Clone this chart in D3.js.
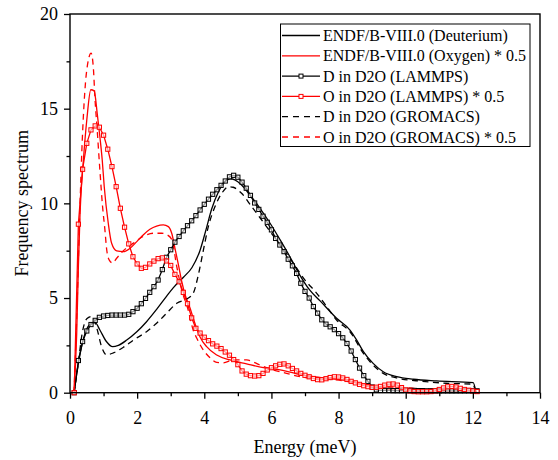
<!DOCTYPE html>
<html><head><meta charset="utf-8">
<script src="https://cdn.jsdelivr.net/npm/d3@7"></script>
<style>
html,body{margin:0;padding:0;background:#fff;}
svg{display:block;}
svg text{font-family:"Liberation Serif","Times New Roman",Times,"DejaVu Serif",serif !important;}
</style></head>
<body>
<svg id="chart" width="558" height="460"></svg>
<script>
// ---------- DATA ----------
const xTicks = [0, 2, 4, 6, 8, 10, 12, 14];
const xMinorTicks = [1, 3, 5, 7, 9, 11, 13];
const yTicks = [0, 5, 10, 15, 20];
const yMinorTicks = [2.5, 7.5, 12.5, 17.5];

const seriesNames = [
  "ENDF/B-VIII.0 (Deuterium)",
  "ENDF/B-VIII.0 (Oxygen) * 0.5",
  "D in D2O (LAMMPS)",
  "O in D2O (LAMMPS) * 0.5",
  "D in D2O (GROMACS)",
  "O in D2O (GROMACS) * 0.5"
];

// ENDF/B-VIII.0 Deuterium
const endfD_E = [0.12,0.25,0.45,0.65,0.75,0.89,1.09,1.27,1.44,1.69,1.99,2.28,2.58,2.88,3.08,3.38,3.63,3.87,4.05,4.22,4.42,4.62,4.77,4.91,5.11,5.36,5.66,5.96,6.26,6.55,6.85,7.15,7.45,7.94,8.34,8.54,8.74,9.03,9.33,9.73,10.23,10.92,12.01,12.09];
const endfD_V = [0,1.55,3.14,3.67,3.7,3.31,2.69,2.43,2.5,2.78,3.22,3.75,4.4,5.1,5.55,6.1,6.6,7.5,8.6,9.7,10.6,11.15,11.3,11.24,10.97,10.44,9.74,8.95,8.07,7.18,6.2,5.4,4.85,3.93,3.31,2.78,2.17,1.55,1.11,0.85,0.71,0.62,0.53,0.05];

// ENDF/B-VIII.0 Oxygen * 0.5
const endfO_E = [0.12,0.2,0.25,0.3,0.4,0.5,0.62,0.72,0.81,0.89,0.96,1.02,1.14,1.24,1.39,1.59,1.79,1.99,2.18,2.38,2.58,2.78,2.93,3.03,3.13,3.23,3.33,3.43,3.57,3.72,3.87,4.07,4.37,4.77,5.26,5.76,6.26,6.75,7.25,7.75,8.25,8.75,9.25,9.75,10.5,11.5,12.1];
const endfO_V = [0,3.14,6.66,9.5,12.3,14.4,16.0,15.94,14.76,13.52,12.29,10.88,8.95,7.89,7.49,7.45,7.63,7.98,8.33,8.63,8.8,8.86,8.77,8.42,7.6,6.75,5.86,5.16,4.5,3.67,2.96,2.43,1.99,1.73,1.52,1.32,1.2,1.0,0.85,0.75,0.65,0.45,0.25,0.12,0.06,0.04,0.03];

// GROMACS D
const gromD_E = [0.12,0.25,0.35,0.5,0.65,0.8,0.94,1.09,1.29,1.59,1.89,2.28,2.58,2.88,3.18,3.48,3.67,3.82,3.97,4.12,4.32,4.52,4.72,4.86,5.11,5.41,5.71,6.0,6.3,6.65,7.0,7.35,7.65,7.94,8.34,8.74,9.03,9.33,9.73,10.5,11.2,12.0,12.08];
const gromD_V = [0,1.6,3.0,3.9,4.02,3.4,2.43,2.0,2.1,2.4,2.78,3.22,3.67,4.2,4.72,4.95,5.25,6.2,7.5,8.77,9.83,10.53,10.88,10.85,10.53,9.83,9.12,8.42,7.71,6.84,5.95,5.25,4.54,3.84,3.22,2.08,1.46,1.02,0.78,0.6,0.5,0.45,0.05];

// GROMACS O * 0.5
const gromO_E = [0.12,0.2,0.3,0.35,0.42,0.5,0.63,0.7,0.74,0.81,0.89,0.97,1.04,1.09,1.17,1.27,1.39,1.59,1.89,2.18,2.48,2.73,2.88,3.03,3.18,3.33,3.52,3.67,3.77,3.97,4.17,4.37,4.57,4.86,5.26,5.66,6.06,6.45,6.85,7.25,7.75,8.25,8.75,9.25,9.75,10.5,11.25,12.1];
const gromO_V = [0,4.0,10.0,12.65,15.3,17.05,17.93,17.05,15.64,13.88,11.76,9.83,8.6,7.6,7.0,6.85,7.1,7.5,7.9,8.25,8.42,8.42,8.35,8.1,6.66,5.42,4.37,3.3,2.9,2.26,1.85,1.6,1.58,1.73,1.73,1.46,1.2,1.02,0.85,0.75,0.7,0.6,0.4,0.3,0.3,0.2,0.2,0.1];

// LAMMPS energy grid (meV)
const lammpsE = d3.range(1, 98).map(i => i * 0.125);
// D in D2O (LAMMPS)
const lammpsD_V = [0,1.7,2.7,3.26,3.6,3.82,3.98,4.05,4.08,4.1,4.1,4.1,4.1,4.14,4.28,4.46,4.7,4.98,5.3,5.6,5.95,6.5,7.15,7.55,7.95,8.25,8.55,8.82,9.08,9.35,9.65,9.95,10.22,10.48,10.72,10.95,11.18,11.4,11.48,11.38,11.12,10.8,10.42,10.02,9.68,9.32,9.0,8.6,8.15,7.8,7.45,7.05,6.7,6.3,5.78,5.35,5.0,4.55,4.2,3.85,3.62,3.48,3.33,3.12,2.9,2.6,2.2,1.75,1.3,0.9,0.6,0.3,0.15,0.12,0.12,0.12,0.11,0.11,0.11,0.12,0.12,0.12,0.11,0.11,0.1,0.1,0.1,0.1,0.1,0.1,0.1,0.1,0.1,0.1,0.1,0.1,0.1];
// O in D2O (LAMMPS) * 0.5
const lammpsO_V = [0,8.9,11.8,13.17,13.88,14.09,14.02,13.6,12.86,11.94,10.88,9.74,8.74,7.86,7.18,6.8,6.57,6.62,6.8,6.95,7.08,7.12,6.96,6.72,6.25,5.86,5.3,4.7,3.95,3.4,3.15,2.93,2.75,2.58,2.46,2.33,2.15,1.98,1.75,1.48,1.15,0.98,0.9,0.88,0.9,1.02,1.2,1.32,1.42,1.5,1.52,1.42,1.28,1.15,1.02,0.92,0.84,0.75,0.69,0.68,0.74,0.8,0.84,0.83,0.78,0.7,0.6,0.52,0.44,0.37,0.32,0.28,0.29,0.33,0.4,0.45,0.46,0.4,0.27,0.15,0.09,0.06,0.05,0.05,0.05,0.06,0.1,0.17,0.25,0.31,0.33,0.3,0.23,0.17,0.13,0.09,0.06];

// ---------- DRAW ----------
const FONT = '"Liberation Serif", "Times New Roman", Times, "DejaVu Serif", serif';
const svg = d3.select("#chart").attr("font-family", FONT);
const pLeft = 70, pRight = 540, pTop = 14, pBottom = 392.7;
const x = d3.scaleLinear().domain([0, 14]).range([pLeft, pRight]);
const y = d3.scaleLinear().domain([0, 20]).range([pBottom, pTop]);

const RED = "#ff0000", BLACK = "#000000";
const zip = (a, b) => a.map((e, i) => [e, b[i]]);

const smooth = d3.line().x(d => x(d[0])).y(d => y(d[1])).curve(d3.curveMonotoneX);
const straight = d3.line().x(d => x(d[0])).y(d => y(d[1]));

const g = svg.append("g");

const lines = [
  {data: zip(endfD_E, endfD_V), color: BLACK, dash: null, gen: smooth},
  {data: zip(endfO_E, endfO_V), color: RED, dash: null, gen: smooth},
  {data: zip(gromD_E, gromD_V), color: BLACK, dash: "6,4.5", gen: smooth},
  {data: zip(gromO_E, gromO_V), color: RED, dash: "6,4.5", gen: smooth},
  {data: zip(lammpsE, lammpsD_V), color: BLACK, dash: null, gen: straight, marker: true},
  {data: zip(lammpsE, lammpsO_V), color: RED, dash: null, gen: straight, marker: true}
];
lines.forEach(s => {
  g.append("path").attr("d", s.gen(s.data))
    .attr("fill", "none").attr("stroke", s.color).attr("stroke-width", 1.3)
    .attr("stroke-dasharray", s.dash).attr("stroke-linejoin", "round");
  if (s.marker) {
    g.append("g").selectAll("rect").data(s.data).join("rect")
      .attr("x", d => x(d[0]) - 2.1).attr("y", d => y(d[1]) - 2.1)
      .attr("width", 4.2).attr("height", 4.2)
      .attr("fill", "#fff").attr("fill-opacity", 0.6)
      .attr("stroke", s.color).attr("stroke-width", 1);
  }
});

// axes
const fontSize = 18;
const xAxis = svg.append("g").attr("transform", `translate(0,${pBottom})`)
  .call(d3.axisBottom(x).tickValues(xTicks).tickSize(6).tickFormat(d3.format("d")));
const xMinor = svg.append("g").attr("transform", `translate(0,${pBottom})`)
  .call(d3.axisBottom(x).tickValues(xMinorTicks).tickSize(3.5).tickFormat(""));
const yAxis = svg.append("g").attr("transform", `translate(${pLeft},0)`)
  .call(d3.axisLeft(y).tickValues(yTicks).tickSize(6).tickFormat(d3.format("d")));
const yMinor = svg.append("g").attr("transform", `translate(${pLeft},0)`)
  .call(d3.axisLeft(y).tickValues(yMinorTicks).tickSize(3.5).tickFormat(""));
[xAxis, xMinor, yAxis, yMinor].forEach(a => a.attr("font-family", FONT).attr("font-size", fontSize));
svg.selectAll(".domain").remove();
svg.selectAll(".tick line").attr("stroke", "#000").attr("stroke-width", 1.3);
svg.selectAll(".tick text").attr("font-family", FONT)
  .attr("font-size", fontSize).attr("fill", "#000");
xAxis.selectAll(".tick text").attr("y", 31).attr("dy", 0);
yAxis.selectAll(".tick text").attr("x", -12).attr("dy", "0.33em");

// frame
svg.append("rect").attr("x", pLeft).attr("y", pTop)
  .attr("width", pRight - pLeft).attr("height", pBottom - pTop)
  .attr("fill", "none").attr("stroke", "#000").attr("stroke-width", 1.4);

// axis titles
svg.append("text").attr("x", (pLeft + pRight) / 2).attr("y", 453)
  .attr("text-anchor", "middle").attr("font-size", fontSize).text("Energy (meV)");
svg.append("text").attr("transform", `translate(28,${(pTop + pBottom) / 2}) rotate(-90)`)
  .attr("text-anchor", "middle").attr("font-size", fontSize).text("Frequency spectrum");

// legend
const lg = svg.append("g");
lg.append("rect").attr("x", 280.5).attr("y", 24).attr("width", 249.5).attr("height", 122.5)
  .attr("fill", "#fff").attr("stroke", "#000").attr("stroke-width", 1);
const legendItems = [
  {color: BLACK, dash: null, marker: false},
  {color: RED, dash: null, marker: false},
  {color: BLACK, dash: null, marker: true},
  {color: RED, dash: null, marker: true},
  {color: BLACK, dash: "6,5", marker: false},
  {color: RED, dash: "6,5", marker: false}
];
legendItems.forEach((it, i) => {
  const cy = 35.5 + i * 20.3;
  lg.append("line").attr("x1", 282).attr("x2", 320).attr("y1", cy).attr("y2", cy)
    .attr("stroke", it.color).attr("stroke-width", 1.3).attr("stroke-dasharray", it.dash);
  if (it.marker) {
    lg.append("rect").attr("x", 301 - 2).attr("y", cy - 2).attr("width", 4).attr("height", 4)
      .attr("fill", "#fff").attr("stroke", it.color).attr("stroke-width", 1);
  }
  lg.append("text").attr("x", 323).attr("y", cy + 5.5).attr("font-size", 16)
    .text(seriesNames[i]);
});
</script>
</body></html>
